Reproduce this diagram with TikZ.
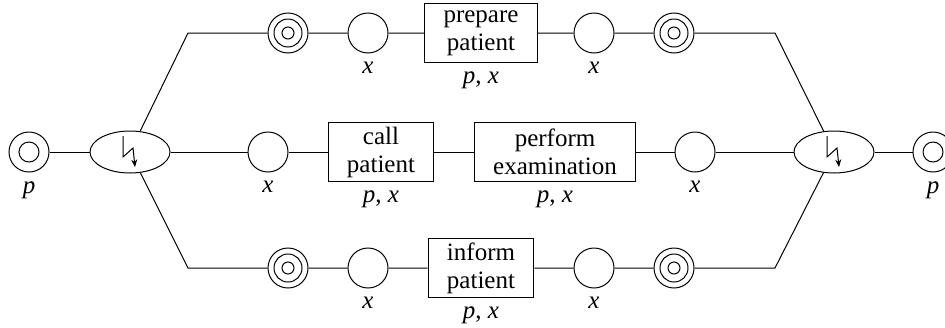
\documentclass[tikz,border=0pt]{standalone}
\usepackage{fontspec}
\setmainfont{Liberation Serif}
\newfontfamily\netfont{Liberation Serif}
\usetikzlibrary{shapes.geometric, arrows.meta}

\begin{document}
\begin{tikzpicture}[x=0.4pt, y=-0.4pt,
	every node/.style={font=\netfont\fontsize{10}{11.2}\selectfont},
	place/.style={circle, draw, minimum size=16pt, inner sep=0pt},
	startend/.style={place, path picture={\draw (path picture bounding box.center) circle (4pt);}},
	cond/.style={place, path picture={\draw (path picture bounding box.center) circle (5.6pt) circle (2.4pt);}},
	trans/.style={draw, align=center, minimum height=23.6pt, inner xsep=7.5pt, inner ysep=1pt},
	xor/.style={ellipse, draw, minimum width=32pt, minimum height=16.8pt, inner sep=0pt}]
	\useasboundingbox (0,0) rectangle (945,327);

	% main line
	\node[startend, label=below:\textit{p}] (start) at (29,152) {};
	\node[xor] (split) at (130,152) {};
	\node[place, label=below:\textit{x}] (mp1) at (268,152) {};
	\node[trans, label=below:{\textit{p}, \textit{x}}] (call) at (381,152) {call\\patient};
	\node[trans, label=below:{\textit{p}, \textit{x}}] (exam) at (555,152) {perform\\examination};
	\node[place, label=below:\textit{x}] (mp2) at (695,152) {};
	\node[xor] (join) at (834,152) {};
	\node[startend, label=below:\textit{p}] (end) at (933,152) {};

	% upper branch
	\coordinate (tl) at (188,33);
	\coordinate (tr) at (775,33);
	\node[cond] (tc1) at (288,33) {};
	\node[place, label=below:\textit{x}] (tp1) at (368,33) {};
	\node[trans, label=below:{\textit{p}, \textit{x}}] (prep) at (481,33) {prepare\\patient};
	\node[place, label=below:\textit{x}] (tp2) at (594,33) {};
	\node[cond] (tc2) at (674,33) {};

	% lower branch
	\coordinate (bl) at (188,268);
	\coordinate (br) at (775,268);
	\node[cond] (bc1) at (288,268) {};
	\node[place, label=below:\textit{x}] (bp1) at (368,268) {};
	\node[trans, label=below:{\textit{p}, \textit{x}}] (inf) at (481,268) {inform\\patient};
	\node[place, label=below:\textit{x}] (bp2) at (594,268) {};
	\node[cond] (bc2) at (674,268) {};

	\draw (start) -- (split) -- (mp1) -- (call) -- (exam) -- (mp2) -- (join) -- (end);
	\draw (split) -- (tl) -- (tc1) -- (tp1) -- (prep) -- (tp2) -- (tc2) -- (tr) -- (join);
	\draw (split) -- (bl) -- (bc1) -- (bp1) -- (inf) -- (bp2) -- (bc2) -- (br) -- (join);

	% lightning marks
	\foreach \n in {split, join}
		\draw[-{Stealth[length=3pt, width=2.4pt]}] ([shift={(-7,-16)}]\n.center) -- ++(0,21) -- ++(10,-9) -- ++(2,19);
\end{tikzpicture}
\end{document}
